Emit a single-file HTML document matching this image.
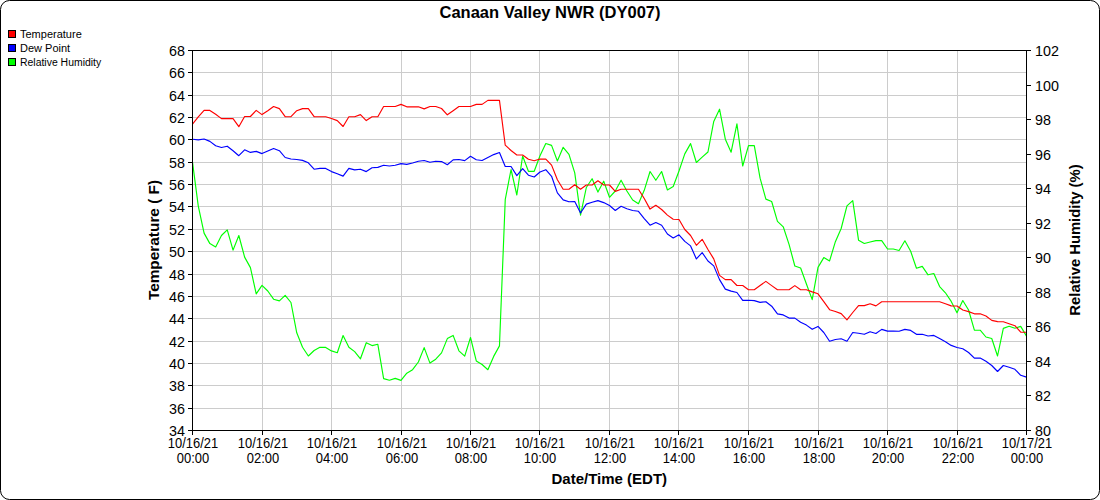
<!DOCTYPE html><html><head><meta charset="utf-8"><style>html,body{margin:0;padding:0;background:#fff;}svg{display:block;}text{font-family:"Liberation Sans",sans-serif;fill:#000;}</style></head><body>
<svg width="1100" height="500" viewBox="0 0 1100 500">
<rect x="0" y="0" width="1100" height="500" fill="#fff"/>
<rect x="0.5" y="0.5" width="1099" height="499" rx="9" ry="9" fill="none" stroke="#000" stroke-width="1"/>
<text transform="translate(550.00,18.00)" text-anchor="middle" font-weight="bold" font-size="16.5">Canaan Valley NWR (DY007)</text>
<rect x="8.5" y="30.5" width="7" height="7" fill="#ff0000" stroke="#000" stroke-width="1"/>
<text transform="translate(20.00,38.00)" font-size="11">Temperature</text>
<rect x="8.5" y="44.5" width="7" height="7" fill="#0000ff" stroke="#000" stroke-width="1"/>
<text transform="translate(20.00,52.00)" font-size="11">Dew Point</text>
<rect x="8.5" y="58.5" width="7" height="7" fill="#00ff00" stroke="#000" stroke-width="1"/>
<text transform="translate(20.00,66.00) scale(0.9500,1)" font-size="11">Relative Humidity</text>
<path d="M262.5 50V430M331.5 50V430M401.5 50V430M470.5 50V430M539.5 50V430M609.5 50V430M678.5 50V430M748.5 50V430M818.5 50V430M887.5 50V430M957.5 50V430M192 408.5H1026M192 385.5H1026M192 363.5H1026M192 341.5H1026M192 318.5H1026M192 296.5H1026M192 274.5H1026M192 251.5H1026M192 229.5H1026M192 206.5H1026M192 184.5H1026M192 162.5H1026M192 139.5H1026M192 117.5H1026M192 95.5H1026M192 72.5H1026" stroke="#cccccc" stroke-width="1" fill="none"/>
<polyline points="192.50,162.10 198.29,206.10 204.08,233.10 209.88,243.60 215.67,247.00 221.46,235.50 227.25,229.80 233.04,250.10 238.83,235.50 244.62,257.10 250.42,267.60 256.21,293.90 262.00,285.40 267.79,291.00 273.58,299.20 279.38,300.90 285.17,295.30 290.96,302.50 296.75,332.80 302.54,347.20 308.33,356.00 314.12,350.50 319.92,347.20 325.71,347.40 331.50,350.90 337.29,352.70 343.08,335.50 348.88,347.20 354.67,351.60 360.46,358.80 366.25,342.70 372.04,345.60 377.83,344.30 383.62,378.60 389.42,380.20 395.21,378.40 401.00,380.40 406.79,373.20 412.58,369.70 418.38,362.00 424.17,347.60 429.96,363.10 435.75,359.20 441.54,352.90 447.33,338.60 453.12,335.40 458.92,350.80 464.71,356.10 470.50,337.50 476.29,360.90 482.08,364.50 487.88,369.70 493.67,356.40 499.46,345.90 505.25,199.50 511.04,169.50 516.83,195.00 522.62,156.00 528.42,171.30 534.21,171.30 540.00,155.70 545.79,143.50 551.58,145.40 557.38,161.00 563.17,147.30 568.96,154.30 574.75,172.80 580.54,215.10 586.33,187.50 592.12,178.70 597.92,192.10 603.71,181.20 609.50,197.30 615.29,191.00 621.08,180.20 626.88,191.00 632.67,200.00 638.46,203.70 644.25,190.30 650.04,171.50 655.83,180.30 661.62,171.50 667.42,190.00 673.21,186.50 679.00,171.00 684.79,153.90 690.58,143.60 696.38,162.50 702.17,157.20 707.96,152.00 713.75,121.40 719.54,109.20 725.33,139.20 731.12,152.20 736.92,123.80 742.71,166.00 748.50,145.60 754.29,145.60 760.08,178.20 765.88,199.10 771.67,201.50 777.46,221.40 783.25,226.80 789.04,244.40 794.83,266.00 800.62,268.00 806.42,284.00 812.21,299.60 818.00,267.40 823.79,257.60 829.58,260.90 835.38,241.70 841.17,228.50 846.96,205.90 852.75,200.60 858.54,240.20 864.33,243.50 870.12,242.00 875.92,240.60 881.71,240.60 887.50,249.00 893.29,249.00 899.08,250.50 904.88,240.80 910.67,251.30 916.46,268.20 922.25,266.40 928.04,274.80 933.83,273.50 939.62,286.60 945.42,292.80 951.21,301.40 957.00,312.80 962.79,300.50 968.58,310.00 974.38,330.20 980.17,330.20 985.96,337.00 991.75,338.50 997.54,356.00 1003.33,328.40 1009.12,326.30 1014.92,328.20 1020.71,326.40 1026.50,336.10" fill="none" stroke="#00ff00" stroke-width="1.15" stroke-linejoin="round"/>
<polyline points="192.50,139.30 198.29,139.90 204.08,139.00 209.88,141.40 215.67,145.80 221.46,147.50 227.25,146.20 233.04,150.70 238.83,155.70 244.62,149.80 250.42,152.40 256.21,151.40 262.00,153.60 267.79,151.00 273.58,148.50 279.38,150.70 285.17,157.50 290.96,159.00 296.75,159.50 302.54,160.40 308.33,162.80 314.12,169.20 319.92,168.40 325.71,168.40 331.50,171.60 337.29,173.70 343.08,176.10 348.88,168.40 354.67,169.90 360.46,169.20 366.25,171.60 372.04,167.80 377.83,167.40 383.62,165.30 389.42,166.00 395.21,165.30 401.00,163.60 406.79,164.40 412.58,163.00 418.38,161.30 424.17,160.50 429.96,162.30 435.75,161.20 441.54,161.60 447.33,164.70 453.12,159.90 458.92,159.50 464.71,160.60 470.50,156.30 476.29,159.80 482.08,160.50 487.88,157.40 493.67,154.60 499.46,152.50 505.25,166.50 511.04,166.50 516.83,175.60 522.62,168.60 528.42,175.20 534.21,177.00 540.00,172.00 545.79,169.70 551.58,176.30 557.38,192.90 563.17,199.90 568.96,201.80 574.75,201.50 580.54,213.00 586.33,204.10 592.12,202.30 597.92,200.60 603.71,202.60 609.50,205.50 615.29,210.50 621.08,206.30 626.88,208.80 632.67,210.50 638.46,211.30 644.25,218.60 650.04,225.20 655.83,222.50 661.62,225.30 667.42,234.00 673.21,237.90 679.00,234.80 684.79,241.40 690.58,245.90 696.38,258.90 702.17,252.60 707.96,261.00 713.75,265.90 719.54,279.60 725.33,289.10 731.12,291.10 736.92,292.50 742.71,300.30 748.50,300.30 754.29,300.60 760.08,302.40 765.88,301.70 771.67,306.20 777.46,313.90 783.25,314.90 789.04,318.10 794.83,318.10 800.62,322.30 806.42,325.10 812.21,329.30 818.00,326.40 823.79,332.50 829.58,341.20 835.38,339.50 841.17,338.80 846.96,341.20 852.75,332.50 858.54,333.20 864.33,334.30 870.12,331.80 875.92,333.50 881.71,329.40 887.50,331.10 893.29,331.10 899.08,331.30 904.88,329.40 910.67,330.40 916.46,334.30 922.25,334.30 928.04,336.00 933.83,335.40 939.62,338.60 945.42,341.80 951.21,345.40 957.00,347.50 962.79,348.70 968.58,352.50 974.38,358.10 980.17,358.10 985.96,361.30 991.75,365.50 997.54,371.50 1003.33,365.50 1009.12,367.30 1014.92,369.30 1020.71,375.30 1026.50,377.10" fill="none" stroke="#0000ff" stroke-width="1.15" stroke-linejoin="round"/>
<polyline points="192.50,124.10 198.29,116.90 204.08,110.40 209.88,110.40 215.67,114.30 221.46,118.60 227.25,118.60 233.04,118.60 238.83,126.70 244.62,116.50 250.42,116.50 256.21,110.40 262.00,114.60 267.79,110.70 273.58,106.50 279.38,108.60 285.17,116.70 290.96,116.70 296.75,110.70 302.54,108.60 308.33,108.60 314.12,116.70 319.92,116.70 325.71,116.70 331.50,118.50 337.29,120.60 343.08,126.50 348.88,116.70 354.67,116.70 360.46,114.60 366.25,120.60 372.04,116.70 377.83,116.70 383.62,106.50 389.42,106.50 395.21,106.50 401.00,104.40 406.79,106.80 412.58,106.80 418.38,106.80 424.17,108.90 429.96,106.50 435.75,106.50 441.54,108.50 447.33,114.80 453.12,110.70 458.92,106.50 464.71,106.50 470.50,106.50 476.29,104.40 482.08,104.40 487.88,100.40 493.67,100.40 499.46,100.40 505.25,145.20 511.04,150.50 516.83,155.00 522.62,155.00 528.42,159.20 534.21,160.80 540.00,159.00 545.79,159.10 551.58,165.10 557.38,179.80 563.17,189.20 568.96,189.20 574.75,184.70 580.54,189.20 586.33,185.00 592.12,185.00 597.92,180.80 603.71,185.00 609.50,185.00 615.29,191.40 621.08,189.20 626.88,189.20 632.67,189.20 638.46,189.20 644.25,198.50 650.04,209.10 655.83,205.30 661.62,209.50 667.42,215.10 673.21,219.30 679.00,219.50 684.79,229.50 690.58,235.50 696.38,245.30 702.17,239.30 707.96,249.50 713.75,258.90 719.54,275.40 725.33,279.60 731.12,279.60 736.92,285.50 742.71,285.50 748.50,289.70 754.29,289.70 760.08,285.50 765.88,281.40 771.67,285.60 777.46,289.70 783.25,289.70 789.04,289.70 794.83,285.60 800.62,289.70 806.42,289.70 812.21,291.90 818.00,293.80 823.79,301.70 829.58,309.70 835.38,311.50 841.17,313.60 846.96,319.90 852.75,312.50 858.54,305.60 864.33,305.60 870.12,303.80 875.92,305.90 881.71,301.70 887.50,301.70 893.29,301.70 899.08,301.70 904.88,301.70 910.67,301.70 916.46,301.70 922.25,301.70 928.04,301.70 933.83,301.70 939.62,301.70 945.42,303.80 951.21,305.90 957.00,306.00 962.79,310.00 968.58,311.60 974.38,313.80 980.17,313.80 985.96,316.00 991.75,320.40 997.54,321.60 1003.33,321.80 1009.12,323.80 1014.92,325.70 1020.71,332.20 1026.50,332.20" fill="none" stroke="#ff0000" stroke-width="1.15" stroke-linejoin="round"/>
<path d="M192.5 50V431M192 50.5H1027M1026.5 50V431M192 430.5H1027M188 430.5H192M188 408.5H192M188 385.5H192M188 363.5H192M188 341.5H192M188 318.5H192M188 296.5H192M188 274.5H192M188 251.5H192M188 229.5H192M188 206.5H192M188 184.5H192M188 162.5H192M188 139.5H192M188 117.5H192M188 95.5H192M188 72.5H192M188 50.5H192M1027 430.5H1031M1027 395.5H1031M1027 361.5H1031M1027 326.5H1031M1027 292.5H1031M1027 257.5H1031M1027 223.5H1031M1027 188.5H1031M1027 154.5H1031M1027 119.5H1031M1027 85.5H1031M1027 50.5H1031M192.5 431V435M262.5 431V435M331.5 431V435M401.5 431V435M470.5 431V435M539.5 431V435M609.5 431V435M678.5 431V435M748.5 431V435M818.5 431V435M887.5 431V435M957.5 431V435M1026.5 431V435" stroke="#000" stroke-width="1" fill="none"/>
<text transform="translate(185.00,435.50) scale(0.9550,1)" text-anchor="end" font-size="15">34</text>
<text transform="translate(185.00,413.50) scale(0.9550,1)" text-anchor="end" font-size="15">36</text>
<text transform="translate(185.00,390.50) scale(0.9550,1)" text-anchor="end" font-size="15">38</text>
<text transform="translate(185.00,368.50) scale(0.9550,1)" text-anchor="end" font-size="15">40</text>
<text transform="translate(185.00,346.50) scale(0.9550,1)" text-anchor="end" font-size="15">42</text>
<text transform="translate(185.00,323.50) scale(0.9550,1)" text-anchor="end" font-size="15">44</text>
<text transform="translate(185.00,301.50) scale(0.9550,1)" text-anchor="end" font-size="15">46</text>
<text transform="translate(185.00,279.50) scale(0.9550,1)" text-anchor="end" font-size="15">48</text>
<text transform="translate(185.00,256.50) scale(0.9550,1)" text-anchor="end" font-size="15">50</text>
<text transform="translate(185.00,234.50) scale(0.9550,1)" text-anchor="end" font-size="15">52</text>
<text transform="translate(185.00,211.50) scale(0.9550,1)" text-anchor="end" font-size="15">54</text>
<text transform="translate(185.00,189.50) scale(0.9550,1)" text-anchor="end" font-size="15">56</text>
<text transform="translate(185.00,167.50) scale(0.9550,1)" text-anchor="end" font-size="15">58</text>
<text transform="translate(185.00,144.50) scale(0.9550,1)" text-anchor="end" font-size="15">60</text>
<text transform="translate(185.00,122.50) scale(0.9550,1)" text-anchor="end" font-size="15">62</text>
<text transform="translate(185.00,100.50) scale(0.9550,1)" text-anchor="end" font-size="15">64</text>
<text transform="translate(185.00,77.50) scale(0.9550,1)" text-anchor="end" font-size="15">66</text>
<text transform="translate(185.00,55.50) scale(0.9550,1)" text-anchor="end" font-size="15">68</text>
<text transform="translate(1035.00,435.50) scale(0.9550,1)" font-size="15">80</text>
<text transform="translate(1035.00,400.50) scale(0.9550,1)" font-size="15">82</text>
<text transform="translate(1035.00,366.50) scale(0.9550,1)" font-size="15">84</text>
<text transform="translate(1035.00,331.50) scale(0.9550,1)" font-size="15">86</text>
<text transform="translate(1035.00,297.50) scale(0.9550,1)" font-size="15">88</text>
<text transform="translate(1035.00,262.50) scale(0.9550,1)" font-size="15">90</text>
<text transform="translate(1035.00,228.50) scale(0.9550,1)" font-size="15">92</text>
<text transform="translate(1035.00,193.50) scale(0.9550,1)" font-size="15">94</text>
<text transform="translate(1035.00,159.50) scale(0.9550,1)" font-size="15">96</text>
<text transform="translate(1035.00,124.50) scale(0.9550,1)" font-size="15">98</text>
<text transform="translate(1035.00,90.50) scale(0.9550,1)" font-size="15">100</text>
<text transform="translate(1035.00,55.50) scale(0.9550,1)" font-size="15">102</text>
<text transform="translate(193.00,448.00) scale(0.9250,1)" text-anchor="middle" font-size="14">10/16/21</text>
<text transform="translate(193.00,463.00) scale(0.9250,1)" text-anchor="middle" font-size="14">00:00</text>
<text transform="translate(263.00,448.00) scale(0.9250,1)" text-anchor="middle" font-size="14">10/16/21</text>
<text transform="translate(263.00,463.00) scale(0.9250,1)" text-anchor="middle" font-size="14">02:00</text>
<text transform="translate(332.00,448.00) scale(0.9250,1)" text-anchor="middle" font-size="14">10/16/21</text>
<text transform="translate(332.00,463.00) scale(0.9250,1)" text-anchor="middle" font-size="14">04:00</text>
<text transform="translate(402.00,448.00) scale(0.9250,1)" text-anchor="middle" font-size="14">10/16/21</text>
<text transform="translate(402.00,463.00) scale(0.9250,1)" text-anchor="middle" font-size="14">06:00</text>
<text transform="translate(471.00,448.00) scale(0.9250,1)" text-anchor="middle" font-size="14">10/16/21</text>
<text transform="translate(471.00,463.00) scale(0.9250,1)" text-anchor="middle" font-size="14">08:00</text>
<text transform="translate(540.00,448.00) scale(0.9250,1)" text-anchor="middle" font-size="14">10/16/21</text>
<text transform="translate(540.00,463.00) scale(0.9250,1)" text-anchor="middle" font-size="14">10:00</text>
<text transform="translate(610.00,448.00) scale(0.9250,1)" text-anchor="middle" font-size="14">10/16/21</text>
<text transform="translate(610.00,463.00) scale(0.9250,1)" text-anchor="middle" font-size="14">12:00</text>
<text transform="translate(679.00,448.00) scale(0.9250,1)" text-anchor="middle" font-size="14">10/16/21</text>
<text transform="translate(679.00,463.00) scale(0.9250,1)" text-anchor="middle" font-size="14">14:00</text>
<text transform="translate(749.00,448.00) scale(0.9250,1)" text-anchor="middle" font-size="14">10/16/21</text>
<text transform="translate(749.00,463.00) scale(0.9250,1)" text-anchor="middle" font-size="14">16:00</text>
<text transform="translate(819.00,448.00) scale(0.9250,1)" text-anchor="middle" font-size="14">10/16/21</text>
<text transform="translate(819.00,463.00) scale(0.9250,1)" text-anchor="middle" font-size="14">18:00</text>
<text transform="translate(888.00,448.00) scale(0.9250,1)" text-anchor="middle" font-size="14">10/16/21</text>
<text transform="translate(888.00,463.00) scale(0.9250,1)" text-anchor="middle" font-size="14">20:00</text>
<text transform="translate(958.00,448.00) scale(0.9250,1)" text-anchor="middle" font-size="14">10/16/21</text>
<text transform="translate(958.00,463.00) scale(0.9250,1)" text-anchor="middle" font-size="14">22:00</text>
<text transform="translate(1027.00,448.00) scale(0.9250,1)" text-anchor="middle" font-size="14">10/17/21</text>
<text transform="translate(1027.00,463.00) scale(0.9250,1)" text-anchor="middle" font-size="14">00:00</text>
<text transform="translate(609.30,484.00)" text-anchor="middle" font-weight="bold" font-size="15">Date/Time (EDT)</text>
<text transform="translate(159.00,240.00) rotate(-90) scale(1.0260,1)" text-anchor="middle" font-weight="bold" font-size="15">Temperature ( F)</text>
<text transform="translate(1080.00,240.00) rotate(-90) scale(0.9870,1)" text-anchor="middle" font-weight="bold" font-size="15">Relative Humidity (%)</text>
</svg></body></html>
